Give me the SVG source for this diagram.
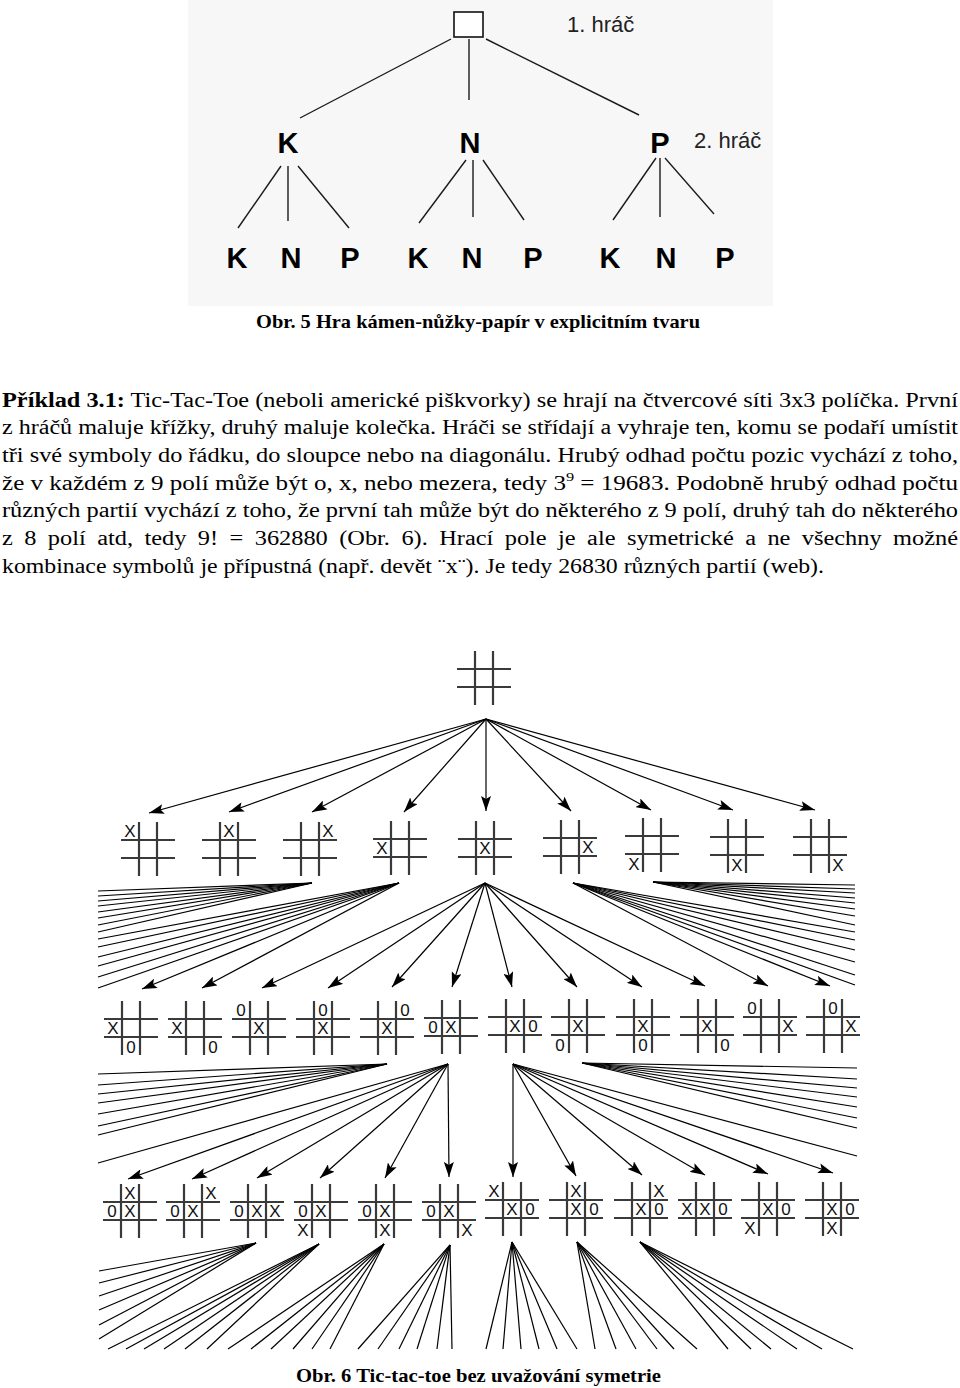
<svg xmlns="http://www.w3.org/2000/svg" xmlns:xlink="http://www.w3.org/1999/xlink" width="960" height="1388" viewBox="0 0 960 1388">
<style>
.tl{stroke:#1a1a1a;stroke-width:1.4;fill:none}
.big{font-family:"Liberation Sans",Arial,sans-serif;font-weight:bold;font-size:29px;text-anchor:middle;fill:#000}
.lab{font-family:"Liberation Sans",Arial,sans-serif;font-size:22px;fill:#222}
.cap{font-family:"Liberation Serif","Times New Roman",serif;font-weight:bold;font-size:19.5px;fill:#000}
.para{font-family:"Liberation Serif","Times New Roman",serif;font-size:20px;fill:#000}
.grid{stroke:#3a3a3a;stroke-width:2.2;fill:none}
.mk{font-family:"Liberation Sans",Arial,sans-serif;font-size:17px;text-anchor:middle;fill:#111}
.e{stroke:#000;stroke-width:1.2;fill:none}
.a{stroke:#000;stroke-width:1.2;fill:none;marker-end:url(#ah)}
</style>
<defs>
<marker id="ah" markerUnits="userSpaceOnUse" markerWidth="15" markerHeight="10" refX="15" refY="5" orient="auto">
<path d="M0,0 L15,5 L0,10 L3,5 Z" fill="#000"/>
</marker>
<g id="grid">
<line class="grid" x1="-9" y1="-27" x2="-9" y2="27"/>
<line class="grid" x1="9" y1="-27" x2="9" y2="27"/>
<line class="grid" x1="-27" y1="-9" x2="27" y2="-9"/>
<line class="grid" x1="-27" y1="9" x2="27" y2="9"/>
</g>
</defs>
<rect width="960" height="1388" fill="#fff"/>
<rect x="188" y="0" width="585" height="306" fill="#f7f7f7"/>

<!-- Top tree: rock-paper-scissors -->
<g id="tree-edges">
<line class="tl" x1="451" y1="39" x2="300" y2="118"/>
<line class="tl" x1="469" y1="39" x2="469" y2="100"/>
<line class="tl" x1="486" y1="39" x2="639" y2="115"/>
<line class="tl" x1="281" y1="166" x2="238" y2="228"/>
<line class="tl" x1="288" y1="166" x2="288" y2="221"/>
<line class="tl" x1="298" y1="166" x2="349" y2="228"/>
<line class="tl" x1="466" y1="160" x2="419" y2="223"/>
<line class="tl" x1="473" y1="160" x2="473" y2="217"/>
<line class="tl" x1="483" y1="160" x2="524" y2="220"/>
<line class="tl" x1="656" y1="158" x2="613" y2="220"/>
<line class="tl" x1="660" y1="158" x2="660" y2="217"/>
<line class="tl" x1="665" y1="158" x2="714" y2="214"/>
</g>
<g id="root"><rect x="454" y="12" width="29" height="25" fill="#fff" stroke="#111" stroke-width="1.6"/></g>
<g id="label-p1"><text class="lab" x="567" y="32">1. hráč</text></g>
<g id="label-p2"><text class="lab" x="694" y="148">2. hráč</text></g>
<g id="n-K"><text class="big" x="288" y="153">K</text></g>
<g id="n-N"><text class="big" x="470" y="153">N</text></g>
<g id="n-P"><text class="big" x="660" y="153">P</text></g>
<g id="n-KK"><text class="big" x="237" y="268">K</text></g>
<g id="n-KN"><text class="big" x="291" y="268">N</text></g>
<g id="n-KP"><text class="big" x="350" y="268">P</text></g>
<g id="n-NK"><text class="big" x="418" y="268">K</text></g>
<g id="n-NN"><text class="big" x="472" y="268">N</text></g>
<g id="n-NP"><text class="big" x="533" y="268">P</text></g>
<g id="n-PK"><text class="big" x="610" y="268">K</text></g>
<g id="n-PN"><text class="big" x="666" y="268">N</text></g>
<g id="n-PP"><text class="big" x="725" y="268">P</text></g>

<g id="caption5"><text class="cap" x="256" y="328" textLength="444" lengthAdjust="spacingAndGlyphs">Obr.  5  Hra kámen-nůžky-papír v explicitním tvaru</text></g>

<!-- Paragraph -->
<g id="paragraph">
<text class="para" x="2" y="407" textLength="956" lengthAdjust="spacingAndGlyphs"><tspan font-weight="bold">Příklad 3.1:</tspan> Tic-Tac-Toe (neboli americké piškvorky) se hrají na čtvercové síti 3x3 políčka. První</text>
<text class="para" x="2" y="434" textLength="956" lengthAdjust="spacingAndGlyphs">z hráčů maluje křížky, druhý maluje kolečka. Hráči se střídají a vyhraje ten, komu se podaří umístit</text>
<text class="para" x="2" y="462" textLength="956" lengthAdjust="spacingAndGlyphs">tři své symboly do řádku, do sloupce nebo na diagonálu. Hrubý odhad počtu pozic vychází z toho,</text>
<text class="para" x="2" y="490" textLength="956" lengthAdjust="spacingAndGlyphs">že v každém z 9 polí může být o, x, nebo mezera, tedy 3<tspan dy="-9" font-size="13">9</tspan><tspan dy="9"> = 19683. Podobně hrubý odhad počtu</tspan></text>
<text class="para" x="2" y="517" textLength="956" lengthAdjust="spacingAndGlyphs">různých partií vychází z toho, že první tah může být do některého z 9 polí, druhý tah do některého</text>
<text class="para" x="2" y="545" textLength="956" lengthAdjust="spacingAndGlyphs" word-spacing="4.4">z 8 polí atd, tedy 9! = 362880 (Obr.  6). Hrací pole je ale symetrické a ne všechny možné</text>
<text class="para" x="2" y="573" textLength="822" lengthAdjust="spacingAndGlyphs">kombinace symbolů je přípustná (např. devět ¨x¨). Je tedy 26830 různých partií (web).</text>
</g>

<!-- Tic-tac-toe tree connectors -->
<g id="connectors">
<line class="a" x1="486" y1="719" x2="149" y2="813"/>
<line class="a" x1="486" y1="719" x2="229" y2="812"/>
<line class="a" x1="486" y1="719" x2="312" y2="812"/>
<line class="a" x1="486" y1="719" x2="404" y2="812"/>
<line class="a" x1="486" y1="719" x2="486" y2="811"/>
<line class="a" x1="486" y1="719" x2="571" y2="811"/>
<line class="a" x1="486" y1="719" x2="651" y2="810"/>
<line class="a" x1="486" y1="719" x2="733" y2="810"/>
<line class="a" x1="486" y1="719" x2="815" y2="810"/>
<line class="e" x1="312" y1="883" x2="98" y2="891"/>
<line class="e" x1="312" y1="883" x2="98" y2="896"/>
<line class="e" x1="312" y1="883" x2="98" y2="901"/>
<line class="e" x1="312" y1="883" x2="98" y2="906"/>
<line class="e" x1="312" y1="883" x2="98" y2="912"/>
<line class="e" x1="312" y1="883" x2="98" y2="918"/>
<line class="e" x1="312" y1="883" x2="98" y2="925"/>
<line class="e" x1="312" y1="883" x2="98" y2="932"/>
<line class="e" x1="399" y1="883" x2="98" y2="939"/>
<line class="e" x1="399" y1="883" x2="98" y2="947"/>
<line class="e" x1="399" y1="883" x2="98" y2="957"/>
<line class="e" x1="399" y1="883" x2="98" y2="966"/>
<line class="e" x1="399" y1="883" x2="98" y2="977"/>
<line class="e" x1="399" y1="883" x2="98" y2="988"/>
<line class="a" x1="399" y1="883" x2="142" y2="989"/>
<line class="a" x1="399" y1="883" x2="202" y2="988"/>
<line class="a" x1="485" y1="883" x2="262" y2="988"/>
<line class="a" x1="485" y1="883" x2="328" y2="988"/>
<line class="a" x1="485" y1="883" x2="392" y2="987"/>
<line class="a" x1="485" y1="883" x2="452" y2="987"/>
<line class="a" x1="485" y1="883" x2="512" y2="987"/>
<line class="a" x1="485" y1="883" x2="577" y2="987"/>
<line class="a" x1="485" y1="883" x2="642" y2="987"/>
<line class="a" x1="485" y1="883" x2="705" y2="986"/>
<line class="a" x1="573" y1="883" x2="768" y2="986"/>
<line class="a" x1="573" y1="883" x2="830" y2="986"/>
<line class="e" x1="573" y1="883" x2="855" y2="932"/>
<line class="e" x1="573" y1="883" x2="855" y2="940"/>
<line class="e" x1="573" y1="883" x2="855" y2="950"/>
<line class="e" x1="573" y1="883" x2="855" y2="962"/>
<line class="e" x1="573" y1="883" x2="855" y2="975"/>
<line class="e" x1="573" y1="883" x2="855" y2="985"/>
<line class="e" x1="653" y1="882" x2="855" y2="885"/>
<line class="e" x1="653" y1="882" x2="855" y2="889"/>
<line class="e" x1="653" y1="882" x2="855" y2="893"/>
<line class="e" x1="653" y1="882" x2="855" y2="898"/>
<line class="e" x1="653" y1="882" x2="855" y2="903"/>
<line class="e" x1="653" y1="882" x2="855" y2="909"/>
<line class="e" x1="653" y1="882" x2="855" y2="916"/>
<line class="e" x1="653" y1="882" x2="855" y2="925"/>
<line class="e" x1="387" y1="1064" x2="98" y2="1074"/>
<line class="e" x1="387" y1="1064" x2="98" y2="1085"/>
<line class="e" x1="387" y1="1064" x2="98" y2="1094"/>
<line class="e" x1="387" y1="1064" x2="98" y2="1103"/>
<line class="e" x1="387" y1="1064" x2="98" y2="1114"/>
<line class="e" x1="387" y1="1064" x2="98" y2="1126"/>
<line class="e" x1="387" y1="1064" x2="98" y2="1135"/>
<line class="e" x1="448" y1="1064" x2="98" y2="1163"/>
<line class="a" x1="448" y1="1064" x2="128" y2="1179"/>
<line class="a" x1="448" y1="1064" x2="192" y2="1179"/>
<line class="a" x1="448" y1="1064" x2="257" y2="1178"/>
<line class="a" x1="448" y1="1064" x2="320" y2="1178"/>
<line class="a" x1="448" y1="1064" x2="385" y2="1178"/>
<line class="a" x1="448" y1="1064" x2="449" y2="1177"/>
<line class="a" x1="513" y1="1064" x2="513" y2="1177"/>
<line class="a" x1="513" y1="1064" x2="576" y2="1176"/>
<line class="a" x1="513" y1="1064" x2="642" y2="1175"/>
<line class="a" x1="513" y1="1064" x2="705" y2="1175"/>
<line class="a" x1="513" y1="1064" x2="768" y2="1174"/>
<line class="a" x1="513" y1="1064" x2="833" y2="1173"/>
<line class="e" x1="513" y1="1064" x2="857" y2="1156"/>
<line class="e" x1="582" y1="1063" x2="857" y2="1068"/>
<line class="e" x1="582" y1="1063" x2="857" y2="1079"/>
<line class="e" x1="582" y1="1063" x2="857" y2="1088"/>
<line class="e" x1="582" y1="1063" x2="857" y2="1097"/>
<line class="e" x1="582" y1="1063" x2="857" y2="1107"/>
<line class="e" x1="582" y1="1063" x2="857" y2="1118"/>
<line class="e" x1="582" y1="1063" x2="857" y2="1128"/>
<line class="e" x1="256" y1="1243" x2="99" y2="1271"/>
<line class="e" x1="256" y1="1243" x2="99" y2="1283"/>
<line class="e" x1="256" y1="1243" x2="99" y2="1296"/>
<line class="e" x1="256" y1="1243" x2="99" y2="1310"/>
<line class="e" x1="256" y1="1243" x2="99" y2="1325"/>
<line class="e" x1="256" y1="1243" x2="99" y2="1339"/>
<line class="e" x1="319" y1="1244" x2="108" y2="1349"/>
<line class="e" x1="319" y1="1244" x2="126" y2="1349"/>
<line class="e" x1="319" y1="1244" x2="144" y2="1349"/>
<line class="e" x1="319" y1="1244" x2="164" y2="1349"/>
<line class="e" x1="319" y1="1244" x2="185" y2="1349"/>
<line class="e" x1="319" y1="1244" x2="207" y2="1349"/>
<line class="e" x1="384" y1="1244" x2="228" y2="1349"/>
<line class="e" x1="384" y1="1244" x2="251" y2="1349"/>
<line class="e" x1="384" y1="1244" x2="271" y2="1349"/>
<line class="e" x1="384" y1="1244" x2="293" y2="1349"/>
<line class="e" x1="384" y1="1244" x2="312" y2="1349"/>
<line class="e" x1="384" y1="1244" x2="330" y2="1349"/>
<line class="e" x1="450" y1="1245" x2="358" y2="1349"/>
<line class="e" x1="450" y1="1245" x2="378" y2="1349"/>
<line class="e" x1="450" y1="1245" x2="399" y2="1349"/>
<line class="e" x1="450" y1="1245" x2="417" y2="1349"/>
<line class="e" x1="450" y1="1245" x2="437" y2="1349"/>
<line class="e" x1="450" y1="1245" x2="452" y2="1349"/>
<line class="e" x1="512" y1="1242" x2="486" y2="1349"/>
<line class="e" x1="512" y1="1242" x2="503" y2="1349"/>
<line class="e" x1="512" y1="1242" x2="521" y2="1349"/>
<line class="e" x1="512" y1="1242" x2="539" y2="1349"/>
<line class="e" x1="512" y1="1242" x2="557" y2="1349"/>
<line class="e" x1="512" y1="1242" x2="577" y2="1349"/>
<line class="e" x1="577" y1="1242" x2="595" y2="1349"/>
<line class="e" x1="577" y1="1242" x2="616" y2="1349"/>
<line class="e" x1="577" y1="1242" x2="636" y2="1349"/>
<line class="e" x1="577" y1="1242" x2="657" y2="1349"/>
<line class="e" x1="577" y1="1242" x2="674" y2="1349"/>
<line class="e" x1="577" y1="1242" x2="697" y2="1349"/>
<line class="e" x1="640" y1="1242" x2="728" y2="1349"/>
<line class="e" x1="640" y1="1242" x2="751" y2="1349"/>
<line class="e" x1="640" y1="1242" x2="771" y2="1349"/>
<line class="e" x1="640" y1="1242" x2="797" y2="1349"/>
<line class="e" x1="640" y1="1242" x2="822" y2="1349"/>
<line class="e" x1="640" y1="1242" x2="853" y2="1349"/>
</g>

<!-- Boards -->
<g id="b0" transform="translate(484,678)"><use xlink:href="#grid"/></g>

<g id="b1-1" transform="translate(148,849)"><use xlink:href="#grid"/><text class="mk" x="-18" y="-12">X</text></g>
<g id="b1-2" transform="translate(229,849)"><use xlink:href="#grid"/><text class="mk" x="0" y="-12">X</text></g>
<g id="b1-3" transform="translate(310,849)"><use xlink:href="#grid"/><text class="mk" x="18" y="-12">X</text></g>
<g id="b1-4" transform="translate(400,848)"><use xlink:href="#grid"/><text class="mk" x="-18" y="6">X</text></g>
<g id="b1-5" transform="translate(485,848)"><use xlink:href="#grid"/><text class="mk" x="0" y="6">X</text></g>
<g id="b1-6" transform="translate(570,847)"><use xlink:href="#grid"/><text class="mk" x="18" y="6">X</text></g>
<g id="b1-7" transform="translate(652,845)"><use xlink:href="#grid"/><text class="mk" x="-18" y="25">X</text></g>
<g id="b1-8" transform="translate(737,846)"><use xlink:href="#grid"/><text class="mk" x="0" y="25">X</text></g>
<g id="b1-9" transform="translate(820,846)"><use xlink:href="#grid"/><text class="mk" x="18" y="25">X</text></g>

<g id="b2-1" transform="translate(131,1028)"><use xlink:href="#grid"/><text class="mk" x="-18" y="6">X</text><text class="mk" x="0" y="25">0</text></g>
<g id="b2-2" transform="translate(195,1028)"><use xlink:href="#grid"/><text class="mk" x="-18" y="6">X</text><text class="mk" x="18" y="25">0</text></g>
<g id="b2-3" transform="translate(259,1028)"><use xlink:href="#grid"/><text class="mk" x="0" y="6">X</text><text class="mk" x="-18" y="-12">0</text></g>
<g id="b2-4" transform="translate(323,1028)"><use xlink:href="#grid"/><text class="mk" x="0" y="6">X</text><text class="mk" x="0" y="-12">0</text></g>
<g id="b2-5" transform="translate(387,1028)"><use xlink:href="#grid"/><text class="mk" x="0" y="6">X</text><text class="mk" x="18" y="-12">0</text></g>
<g id="b2-6" transform="translate(451,1027)"><use xlink:href="#grid"/><text class="mk" x="0" y="6">X</text><text class="mk" x="-18" y="6">0</text></g>
<g id="b2-7" transform="translate(515,1026)"><use xlink:href="#grid"/><text class="mk" x="0" y="6">X</text><text class="mk" x="18" y="6">0</text></g>
<g id="b2-8" transform="translate(578,1026)"><use xlink:href="#grid"/><text class="mk" x="0" y="6">X</text><text class="mk" x="-18" y="25">0</text></g>
<g id="b2-9" transform="translate(643,1026)"><use xlink:href="#grid"/><text class="mk" x="0" y="6">X</text><text class="mk" x="0" y="25">0</text></g>
<g id="b2-10" transform="translate(707,1026)"><use xlink:href="#grid"/><text class="mk" x="0" y="6">X</text><text class="mk" x="18" y="25">0</text></g>
<g id="b2-11" transform="translate(770,1026)"><use xlink:href="#grid"/><text class="mk" x="18" y="6">X</text><text class="mk" x="-18" y="-12">0</text></g>
<g id="b2-12" transform="translate(833,1026)"><use xlink:href="#grid"/><text class="mk" x="18" y="6">X</text><text class="mk" x="0" y="-12">0</text></g>

<g id="b3-1" transform="translate(130,1211)"><use xlink:href="#grid"/><text class="mk" x="0" y="-12">X</text><text class="mk" x="-18" y="6">0</text><text class="mk" x="0" y="6">X</text></g>
<g id="b3-2" transform="translate(193,1211)"><use xlink:href="#grid"/><text class="mk" x="18" y="-12">X</text><text class="mk" x="-18" y="6">0</text><text class="mk" x="0" y="6">X</text></g>
<g id="b3-3" transform="translate(257,1211)"><use xlink:href="#grid"/><text class="mk" x="-18" y="6">0</text><text class="mk" x="0" y="6">X</text><text class="mk" x="18" y="6">X</text></g>
<g id="b3-4" transform="translate(321,1211)"><use xlink:href="#grid"/><text class="mk" x="-18" y="6">0</text><text class="mk" x="0" y="6">X</text><text class="mk" x="-18" y="25">X</text></g>
<g id="b3-5" transform="translate(385,1211)"><use xlink:href="#grid"/><text class="mk" x="-18" y="6">0</text><text class="mk" x="0" y="6">X</text><text class="mk" x="0" y="25">X</text></g>
<g id="b3-6" transform="translate(449,1211)"><use xlink:href="#grid"/><text class="mk" x="-18" y="6">0</text><text class="mk" x="0" y="6">X</text><text class="mk" x="18" y="25">X</text></g>
<g id="b3-7" transform="translate(512,1209)"><use xlink:href="#grid"/><text class="mk" x="-18" y="-12">X</text><text class="mk" x="0" y="6">X</text><text class="mk" x="18" y="6">0</text></g>
<g id="b3-8" transform="translate(576,1209)"><use xlink:href="#grid"/><text class="mk" x="0" y="-12">X</text><text class="mk" x="0" y="6">X</text><text class="mk" x="18" y="6">0</text></g>
<g id="b3-9" transform="translate(641,1209)"><use xlink:href="#grid"/><text class="mk" x="18" y="-12">X</text><text class="mk" x="0" y="6">X</text><text class="mk" x="18" y="6">0</text></g>
<g id="b3-10" transform="translate(705,1209)"><use xlink:href="#grid"/><text class="mk" x="-18" y="6">X</text><text class="mk" x="0" y="6">X</text><text class="mk" x="18" y="6">0</text></g>
<g id="b3-11" transform="translate(768,1209)"><use xlink:href="#grid"/><text class="mk" x="0" y="6">X</text><text class="mk" x="18" y="6">0</text><text class="mk" x="-18" y="25">X</text></g>
<g id="b3-12" transform="translate(832,1209)"><use xlink:href="#grid"/><text class="mk" x="0" y="6">X</text><text class="mk" x="18" y="6">0</text><text class="mk" x="0" y="25">X</text></g>

<g id="caption6"><text class="cap" x="296" y="1382" textLength="365" lengthAdjust="spacingAndGlyphs">Obr.  6  Tic-tac-toe bez uvažování symetrie</text></g>
</svg>
